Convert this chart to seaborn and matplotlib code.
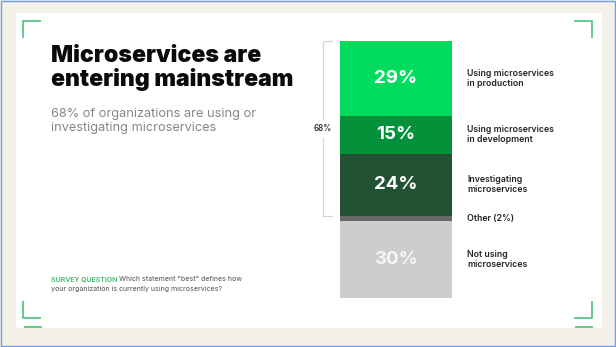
import matplotlib
matplotlib.use("Agg")
import matplotlib.pyplot as plt
import matplotlib.patches as mpatches
import matplotlib.lines as mlines
import matplotlib.transforms as mtransforms
import seaborn as sns
import numpy as np
import pandas as pd

# ---- data ----
categories = ["Using microservices\nin production",
              "Using microservices\nin development",
              "Investigating\nmicroservices",
              "Other (2%)",
              "Not using\nmicroservices"]
values = [29, 15, 24, 2, 30]
value_labels = ["29%", "15%", "24%", "", "30%"]
seg_colors = ["#02dc5e", "#03913a", "#215234", "#686868", "#cdcdcd"]
label_colors = ["white", "white", "white", "white", "#f6f6f6"]
bracket_total = 68
bracket_label = "68%"

title = "Microservices are\nentering mainstream"
subtitle = "68% of organizations are using or\ninvestigating microservices"
survey_tag = "SURVEY QUESTION"
survey_q1 = "Which statement \"best\" defines how"
survey_q2 = "your organization is currently using microservices?"

W, H = 616, 347
sns.set_theme(style="white")
plt.rcParams["font.family"] = ["Inter", "DejaVu Sans"]

fig = plt.figure(figsize=(W / 100, H / 100), dpi=100)
fig.patch.set_facecolor("#f3efe9")

def fx(x):
    return x / W

def fy(y):
    return 1 - y / H

# white panel
fig.patches.append(mpatches.Rectangle((fx(16), fy(328)), fx(602) - fx(16), fy(13) - fy(328),
                                      transform=fig.transFigure, facecolor="white",
                                      edgecolor="none", zorder=0))
# blue outer border
fig.patches.append(mpatches.Rectangle((fx(1), fy(H - 1)), fx(W - 2), fy(1) - fy(H - 1),
                                      transform=fig.transFigure, facecolor="none",
                                      edgecolor="#6d9eeb", linewidth=1.0, zorder=0))

# green corners
cc = "#5cc484"
lw = 1.3
def pline(xs, ys):
    fig.lines.append(mlines.Line2D([fx(x) for x in xs], [fy(y) for y in ys],
                                   transform=fig.transFigure, color=cc, linewidth=lw,
                                   solid_capstyle="butt", zorder=1))
pline([23, 23, 41], [38, 21, 21])
pline([574, 592, 592], [21, 21, 38])
pline([23, 23, 41], [301, 318, 318])
pline([574, 592, 592], [318, 318, 301])
pline([24, 42], [327, 327])
pline([575, 593], [327, 327])

# ---- stacked bar ----
ax = fig.add_axes([fx(340), fy(298), fx(452) - fx(340), fy(41) - fy(298)])
ax.set_zorder(5)
ax.patch.set_visible(False)
cum = np.cumsum(values)
for i in range(len(values) - 1, -1, -1):
    sns.barplot(x=["bar"], y=[cum[i]], color=seg_colors[i], saturation=1,
                width=1.0, errorbar=None, ax=ax, linewidth=0, edgecolor="none")
ax.set_xlim(-0.5, 0.5)
ax.set_ylim(100, 0)
ax.axis("off")

bt = mtransforms.blended_transform_factory(ax.transAxes, ax.transData)
starts = cum - np.array(values)
centers = starts + np.array(values) / 2
for i in range(len(values)):
    if value_labels[i]:
        ax.text(0, centers[i], value_labels[i], ha="center", va="center",
                color=label_colors[i], fontsize=13.5, fontweight="bold")
    ax.text(1.134, centers[i], categories[i], transform=bt,
            ha="left", va="center", color="#222222", fontsize=6.3, fontweight="semibold",
            linespacing=1.15)

# bracket
bx = (323 - 340) / 112
tx = (332 - 340) / 112
mid = bracket_total / 2
gap = 3.8
bc = "#d6d6d6"
ax.add_line(mlines.Line2D([tx, bx, bx], [0, 0, mid - gap], transform=bt, color=bc,
                          linewidth=0.9, clip_on=False))
ax.add_line(mlines.Line2D([bx, bx, tx], [mid + gap, bracket_total, bracket_total], transform=bt,
                          color=bc, linewidth=0.9, clip_on=False))
ax.text(bx, mid, bracket_label, transform=bt, ha="center", va="center",
        fontsize=5.8, fontweight="semibold", color="#333333")

# ---- titles ----
fig.text(fx(51), fy(45), title, ha="left", va="top", fontsize=16.6, fontweight="black",
         color="#0a0a0a", linespacing=1.07, zorder=6)
fig.text(fx(51), fy(107.5), subtitle, ha="left", va="top", fontsize=9.2, color="#878787",
         linespacing=1.27, fontweight="normal", zorder=6)

fs_q = 5.0
t1 = fig.text(fx(51), fy(279), survey_tag + " ", ha="left", va="center", fontsize=fs_q,
              color="#3dbb6a", fontweight="semibold", zorder=6)
fig.canvas.draw()
bb = t1.get_window_extent()
fig.text(bb.x1 / W, fy(279), survey_q1, ha="left", va="center", fontsize=fs_q, color="#6a6a6a",
         fontweight="medium", zorder=6)
fig.text(fx(51), fy(288.5), survey_q2, ha="left", va="center", fontsize=fs_q, color="#6a6a6a",
         fontweight="medium", zorder=6)

fig.savefig("out.png", dpi=100, facecolor=fig.get_facecolor())
